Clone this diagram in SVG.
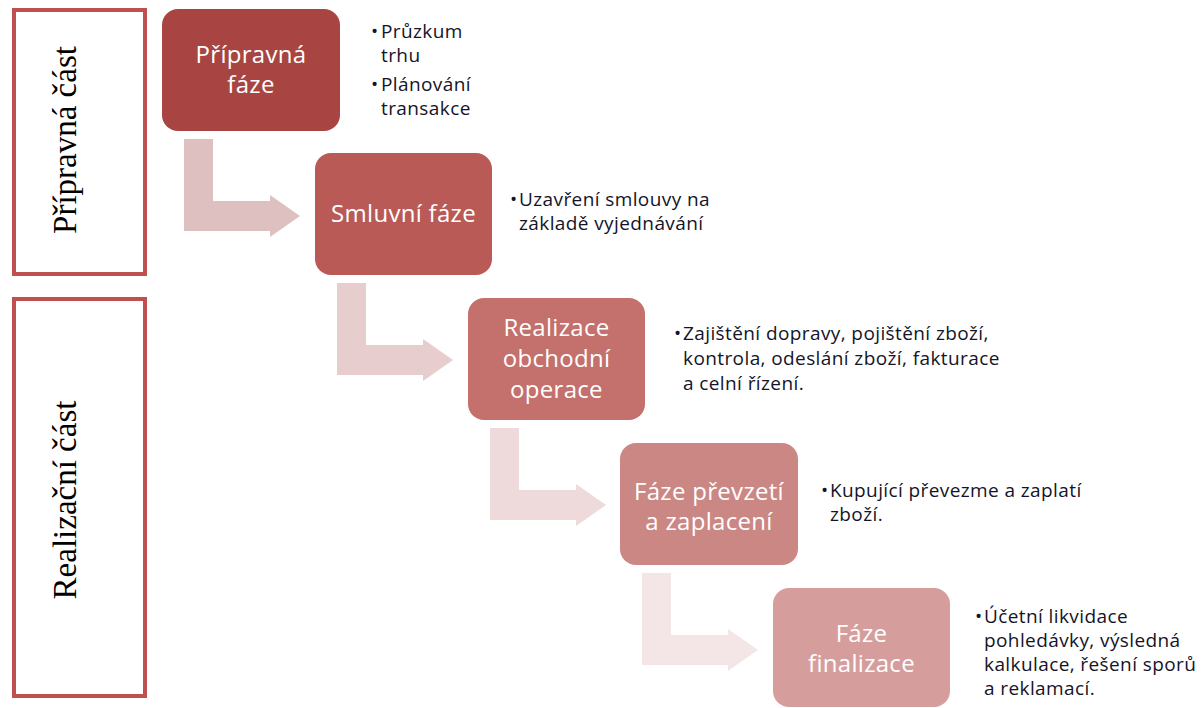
<svg xmlns="http://www.w3.org/2000/svg" width="1201" height="708" viewBox="0 0 1201 708">
<style>
.part{fill:#fff;stroke:#c0504d;stroke-width:4}
.ptxt{font-family:"Liberation Serif",serif;font-size:33px;fill:#000;text-anchor:middle}
.ntxt{font-family:"Open Sans","Liberation Sans",sans-serif;font-size:24px;letter-spacing:0.3px;fill:#fff;text-anchor:middle}
.btxt{font-family:"Open Sans","Liberation Sans",sans-serif;font-size:19px;letter-spacing:0.4px;fill:#141428}
</style>
<rect width="1201" height="708" fill="#fff"/>
<g id="part-priprava">
<rect class="part" x="14" y="10" width="131" height="264"/>
<text class="ptxt" transform="translate(76,140) rotate(-90)">Přípravná část</text>
</g>
<g id="part-realizace">
<rect class="part" x="14" y="299" width="131" height="397"/>
<text class="ptxt" transform="translate(76,500) rotate(-90)">Realizační část</text>
</g>
<g id="connectors">
<path d="M184,139 H213 V201 H270 V195 L300,216 L270,237 V231 H184 Z" fill="#dfc0c0"/>
<path d="M337,283 H366 V345 H423 V339 L453,360 L423,381 V375 H337 Z" fill="#e7cdcd"/>
<path d="M490,428 H519 V490 H576 V484 L606,505 L576,526 V520 H490 Z" fill="#eedada"/>
<path d="M642,573 H671 V635 H728 V629 L758,650 L728,671 V665 H642 Z" fill="#f4e6e6"/>
</g>
<g id="node1">
<rect x="162" y="9" width="178" height="122" rx="16" fill="#a84542"/>
<text class="ntxt" x="251" y="63">Přípravná</text>
<text class="ntxt" x="251" y="93">fáze</text>
</g>
<g id="node2">
<rect x="315" y="153" width="177" height="122" rx="16" fill="#b95a57"/>
<text class="ntxt" x="403.5" y="222">Smluvní fáze</text>
</g>
<g id="node3">
<rect x="468" y="298" width="177" height="122" rx="16" fill="#c4706d"/>
<text class="ntxt" x="556.5" y="336">Realizace</text>
<text class="ntxt" x="556.5" y="367">obchodní</text>
<text class="ntxt" x="556.5" y="398">operace</text>
</g>
<g id="node4">
<rect x="620" y="443" width="178" height="122" rx="16" fill="#cb8784"/>
<text class="ntxt" x="709" y="500">Fáze převzetí</text>
<text class="ntxt" x="709" y="530">a zaplacení</text>
</g>
<g id="node5">
<rect x="773" y="588" width="177" height="119" rx="16" fill="#d59e9d"/>
<text class="ntxt" x="861.5" y="642">Fáze</text>
<text class="ntxt" x="861.5" y="672">finalizace</text>
</g>
<g id="notes1">
<text class="btxt" x="371" y="38">•</text><text class="btxt" x="381" y="38">Průzkum</text>
<text class="btxt" x="381" y="62">trhu</text>
<text class="btxt" x="371" y="91">•</text><text class="btxt" x="381" y="91">Plánování</text>
<text class="btxt" x="381" y="115">transakce</text>
</g>
<g id="notes2">
<text class="btxt" x="510" y="206">•</text><text class="btxt" x="519" y="206">Uzavření smlouvy na</text>
<text class="btxt" x="519" y="230">základě vyjednávání</text>
</g>
<g id="notes3">
<text class="btxt" x="674" y="340">•</text><text class="btxt" x="683" y="340">Zajištění dopravy, pojištění zboží,</text>
<text class="btxt" x="683" y="365">kontrola, odeslání zboží, fakturace</text>
<text class="btxt" x="683" y="390">a celní řízení.</text>
</g>
<g id="notes4">
<text class="btxt" x="821" y="497">•</text><text class="btxt" x="830" y="497">Kupující převezme a zaplatí</text>
<text class="btxt" x="830" y="521">zboží.</text>
</g>
<g id="notes5">
<text class="btxt" x="975" y="623">•</text><text class="btxt" x="984" y="623">Účetní likvidace</text>
<text class="btxt" x="984" y="647">pohledávky, výsledná</text>
<text class="btxt" x="984" y="671">kalkulace, řešení sporů</text>
<text class="btxt" x="984" y="695">a reklamací.</text>
</g>
</svg>
